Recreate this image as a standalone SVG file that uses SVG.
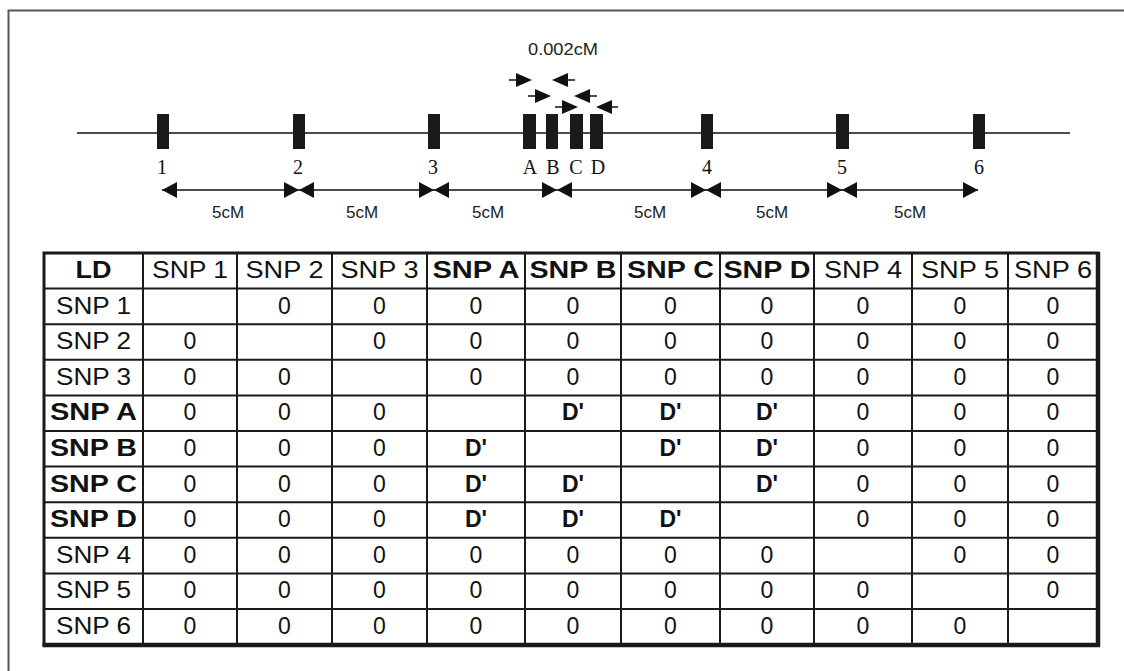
<svg xmlns="http://www.w3.org/2000/svg" width="1124" height="671" viewBox="0 0 1124 671">
<style>
.frame{stroke:#555;stroke-width:2;fill:none}
.chrom{stroke:#111;stroke-width:1.5}
.bar{fill:#1a1a1a}
.num{font-family:"Liberation Serif","Times New Roman",serif;font-size:20px;fill:#111;text-anchor:middle}
.cm{font-family:"Liberation Sans",Arial,sans-serif;font-size:17px;fill:#222;text-anchor:middle}
.dim{stroke:#111;stroke-width:1.5;fill:none}
.head{fill:#111}
.grid{stroke:#1a1a1a;stroke-width:2}
.tb{font-family:"Liberation Sans",Arial,sans-serif;font-size:23px;fill:#111;text-anchor:middle}
.b{font-weight:bold}
</style>
<defs>
<marker id="ah" markerUnits="userSpaceOnUse" markerWidth="15" markerHeight="16" refX="15" refY="8" orient="auto-start-reverse">
<path d="M0,0 L15,8 L0,16 Z" fill="#111"/>
</marker>
</defs>
<rect width="1124" height="671" fill="#fff"/>
<path class="frame" d="M8.5,671 L8.5,10.5 L1124,10.5"/>

<line class="chrom" x1="77" y1="133" x2="1070" y2="133"/>
<g id="m1"><rect class="bar" x="157" y="114" width="12" height="35"/><text class="num" x="162" y="174">1</text></g>
<g id="m2"><rect class="bar" x="293" y="114" width="12" height="35"/><text class="num" x="298" y="174">2</text></g>
<g id="m3"><rect class="bar" x="428" y="114" width="12" height="35"/><text class="num" x="433" y="174">3</text></g>
<g id="mA"><rect class="bar" x="523" y="114" width="13" height="35"/><text class="num" x="530" y="174">A</text></g>
<g id="mB"><rect class="bar" x="546" y="114" width="12" height="35"/><text class="num" x="553" y="174">B</text></g>
<g id="mC"><rect class="bar" x="570" y="114" width="13" height="35"/><text class="num" x="576" y="174">C</text></g>
<g id="mD"><rect class="bar" x="590" y="114" width="13" height="35"/><text class="num" x="598" y="174">D</text></g>
<g id="m4"><rect class="bar" x="701" y="114" width="12" height="35"/><text class="num" x="707" y="174">4</text></g>
<g id="m5"><rect class="bar" x="836" y="114" width="13" height="35"/><text class="num" x="842" y="174">5</text></g>
<g id="m6"><rect class="bar" x="973" y="114" width="12" height="35"/><text class="num" x="979" y="174">6</text></g>

<g id="connectors">
<line class="dim" x1="162" y1="190" x2="299" y2="190" marker-start="url(#ah)" marker-end="url(#ah)"/>
<line class="dim" x1="299" y1="190" x2="434" y2="190" marker-start="url(#ah)" marker-end="url(#ah)"/>
<line class="dim" x1="434" y1="190" x2="557" y2="190" marker-start="url(#ah)" marker-end="url(#ah)"/>
<line class="dim" x1="557" y1="190" x2="706" y2="190" marker-start="url(#ah)" marker-end="url(#ah)"/>
<line class="dim" x1="706" y1="190" x2="842" y2="190" marker-start="url(#ah)" marker-end="url(#ah)"/>
<line class="dim" x1="842" y1="190" x2="978" y2="190" marker-start="url(#ah)" marker-end="url(#ah)"/>
<g id="primers">
<path class="dim" d="M509,80 H518 M575,80 H566 M528,96 H537 M597,96 H588 M555,107 H564 M618,107 H610"/>
<path class="head" d="M516,73 L532,80 L516,87 Z"/>
<path class="head" d="M568,73 L552,80 L568,87 Z"/>
<path class="head" d="M535,89 L551,96 L535,103 Z"/>
<path class="head" d="M590,89 L574,96 L590,103 Z"/>
<path class="head" d="M562,100 L578,107 L562,114 Z"/>
<path class="head" d="M612,100 L596,107 L612,114 Z"/>
</g>
</g>

<g id="dist-labels">
<text class="cm" x="563" y="55" textLength="70" lengthAdjust="spacingAndGlyphs">0.002cM</text>
<text class="cm" x="228" y="218">5cM</text>
<text class="cm" x="362" y="218">5cM</text>
<text class="cm" x="488" y="218">5cM</text>
<text class="cm" x="650" y="218">5cM</text>
<text class="cm" x="772" y="218">5cM</text>
<text class="cm" x="910" y="218">5cM</text>
</g>

<g id="table">
<g class="grid">
<line x1="143" y1="253" x2="143" y2="644.6"/>
<line x1="237" y1="253" x2="237" y2="644.6"/>
<line x1="332" y1="253" x2="332" y2="644.6"/>
<line x1="427" y1="253" x2="427" y2="644.6"/>
<line x1="525" y1="253" x2="525" y2="644.6"/>
<line x1="621" y1="253" x2="621" y2="644.6"/>
<line x1="720" y1="253" x2="720" y2="644.6"/>
<line x1="814" y1="253" x2="814" y2="644.6"/>
<line x1="912" y1="253" x2="912" y2="644.6"/>
<line x1="1008" y1="253" x2="1008" y2="644.6"/>
<line x1="44" y1="288.6" x2="1098" y2="288.6"/>
<line x1="44" y1="324.2" x2="1098" y2="324.2"/>
<line x1="44" y1="359.8" x2="1098" y2="359.8"/>
<line x1="44" y1="395.4" x2="1098" y2="395.4"/>
<line x1="44" y1="431" x2="1098" y2="431"/>
<line x1="44" y1="466.6" x2="1098" y2="466.6"/>
<line x1="44" y1="502.2" x2="1098" y2="502.2"/>
<line x1="44" y1="537.8" x2="1098" y2="537.8"/>
<line x1="44" y1="573.4" x2="1098" y2="573.4"/>
<line x1="44" y1="609" x2="1098" y2="609"/>
</g>
<rect x="44" y="253" width="1054" height="391.6" fill="none" stroke="#1a1a1a" stroke-width="3"/>
<line x1="1098" y1="252" x2="1098" y2="646.5" stroke="#1a1a1a" stroke-width="4.5"/>
<line x1="42.5" y1="645" x2="1100" y2="645" stroke="#1a1a1a" stroke-width="4.5"/>

<g id="header">
<text class="tb b" x="93.5" y="278" textLength="36" lengthAdjust="spacingAndGlyphs">LD</text>
<text class="tb" x="190" y="278" textLength="76" lengthAdjust="spacingAndGlyphs">SNP 1</text>
<text class="tb" x="284.5" y="278" textLength="78" lengthAdjust="spacingAndGlyphs">SNP 2</text>
<text class="tb" x="379.5" y="278" textLength="78" lengthAdjust="spacingAndGlyphs">SNP 3</text>
<text class="tb b" x="476" y="278" textLength="87" lengthAdjust="spacingAndGlyphs">SNP A</text>
<text class="tb b" x="573" y="278" textLength="87" lengthAdjust="spacingAndGlyphs">SNP B</text>
<text class="tb b" x="670.5" y="278" textLength="87" lengthAdjust="spacingAndGlyphs">SNP C</text>
<text class="tb b" x="767" y="278" textLength="87" lengthAdjust="spacingAndGlyphs">SNP D</text>
<text class="tb" x="863" y="278" textLength="78" lengthAdjust="spacingAndGlyphs">SNP 4</text>
<text class="tb" x="960" y="278" textLength="78" lengthAdjust="spacingAndGlyphs">SNP 5</text>
<text class="tb" x="1053" y="278" textLength="78" lengthAdjust="spacingAndGlyphs">SNP 6</text>
</g>

<g id="row-labels">
<text class="tb" x="93.5" y="313.5" textLength="75" lengthAdjust="spacingAndGlyphs">SNP 1</text>
<text class="tb" x="93.5" y="349.1" textLength="75" lengthAdjust="spacingAndGlyphs">SNP 2</text>
<text class="tb" x="93.5" y="384.7" textLength="75" lengthAdjust="spacingAndGlyphs">SNP 3</text>
<text class="tb b" x="93.5" y="420.3" textLength="87" lengthAdjust="spacingAndGlyphs">SNP A</text>
<text class="tb b" x="93.5" y="455.9" textLength="87" lengthAdjust="spacingAndGlyphs">SNP B</text>
<text class="tb b" x="93.5" y="491.5" textLength="87" lengthAdjust="spacingAndGlyphs">SNP C</text>
<text class="tb b" x="93.5" y="527.1" textLength="87" lengthAdjust="spacingAndGlyphs">SNP D</text>
<text class="tb" x="93.5" y="562.7" textLength="75" lengthAdjust="spacingAndGlyphs">SNP 4</text>
<text class="tb" x="93.5" y="598.3" textLength="75" lengthAdjust="spacingAndGlyphs">SNP 5</text>
<text class="tb" x="93.5" y="633.9" textLength="75" lengthAdjust="spacingAndGlyphs">SNP 6</text>
</g>

<g id="cells" class="tb">
<g>
<text x="284.5" y="313.5">0</text><text x="379.5" y="313.5">0</text><text x="476" y="313.5">0</text><text x="573" y="313.5">0</text><text x="670.5" y="313.5">0</text><text x="767" y="313.5">0</text><text x="863" y="313.5">0</text><text x="960" y="313.5">0</text><text x="1053" y="313.5">0</text>
</g>
<g>
<text x="190" y="349.1">0</text><text x="379.5" y="349.1">0</text><text x="476" y="349.1">0</text><text x="573" y="349.1">0</text><text x="670.5" y="349.1">0</text><text x="767" y="349.1">0</text><text x="863" y="349.1">0</text><text x="960" y="349.1">0</text><text x="1053" y="349.1">0</text>
</g>
<g>
<text x="190" y="384.7">0</text><text x="284.5" y="384.7">0</text><text x="476" y="384.7">0</text><text x="573" y="384.7">0</text><text x="670.5" y="384.7">0</text><text x="767" y="384.7">0</text><text x="863" y="384.7">0</text><text x="960" y="384.7">0</text><text x="1053" y="384.7">0</text>
</g>
<g>
<text x="190" y="420.3">0</text><text x="284.5" y="420.3">0</text><text x="379.5" y="420.3">0</text><text class="b" x="573" y="420.3">D'</text><text class="b" x="670.5" y="420.3">D'</text><text class="b" x="767" y="420.3">D'</text><text x="863" y="420.3">0</text><text x="960" y="420.3">0</text><text x="1053" y="420.3">0</text>
</g>
<g>
<text x="190" y="455.9">0</text><text x="284.5" y="455.9">0</text><text x="379.5" y="455.9">0</text><text class="b" x="476" y="455.9">D'</text><text class="b" x="670.5" y="455.9">D'</text><text class="b" x="767" y="455.9">D'</text><text x="863" y="455.9">0</text><text x="960" y="455.9">0</text><text x="1053" y="455.9">0</text>
</g>
<g>
<text x="190" y="491.5">0</text><text x="284.5" y="491.5">0</text><text x="379.5" y="491.5">0</text><text class="b" x="476" y="491.5">D'</text><text class="b" x="573" y="491.5">D'</text><text class="b" x="767" y="491.5">D'</text><text x="863" y="491.5">0</text><text x="960" y="491.5">0</text><text x="1053" y="491.5">0</text>
</g>
<g>
<text x="190" y="527.1">0</text><text x="284.5" y="527.1">0</text><text x="379.5" y="527.1">0</text><text class="b" x="476" y="527.1">D'</text><text class="b" x="573" y="527.1">D'</text><text class="b" x="670.5" y="527.1">D'</text><text x="863" y="527.1">0</text><text x="960" y="527.1">0</text><text x="1053" y="527.1">0</text>
</g>
<g>
<text x="190" y="562.7">0</text><text x="284.5" y="562.7">0</text><text x="379.5" y="562.7">0</text><text x="476" y="562.7">0</text><text x="573" y="562.7">0</text><text x="670.5" y="562.7">0</text><text x="767" y="562.7">0</text><text x="960" y="562.7">0</text><text x="1053" y="562.7">0</text>
</g>
<g>
<text x="190" y="598.3">0</text><text x="284.5" y="598.3">0</text><text x="379.5" y="598.3">0</text><text x="476" y="598.3">0</text><text x="573" y="598.3">0</text><text x="670.5" y="598.3">0</text><text x="767" y="598.3">0</text><text x="863" y="598.3">0</text><text x="1053" y="598.3">0</text>
</g>
<g>
<text x="190" y="633.9">0</text><text x="284.5" y="633.9">0</text><text x="379.5" y="633.9">0</text><text x="476" y="633.9">0</text><text x="573" y="633.9">0</text><text x="670.5" y="633.9">0</text><text x="767" y="633.9">0</text><text x="863" y="633.9">0</text><text x="960" y="633.9">0</text>
</g>
</g>
</g>
</svg>
